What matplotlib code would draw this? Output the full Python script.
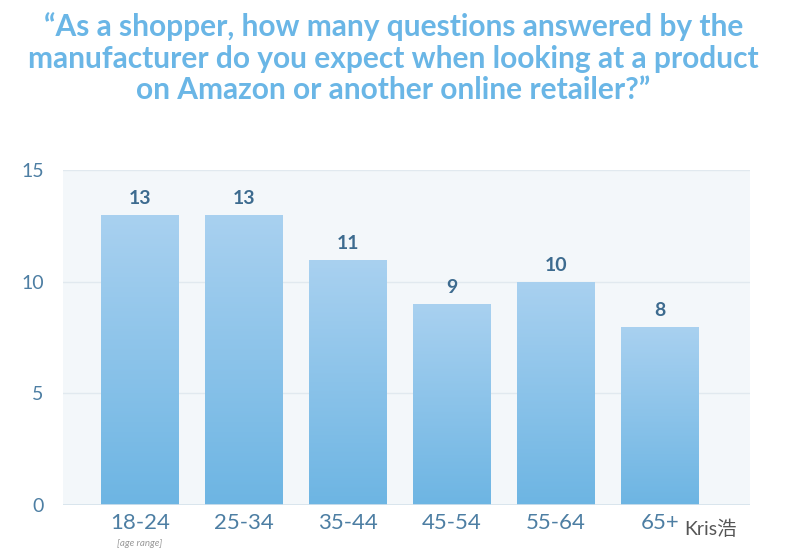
import matplotlib
matplotlib.use("Agg")
import matplotlib.pyplot as plt
import numpy as np
from matplotlib.colors import LinearSegmentedColormap

categories = ["18-24", "25-34", "35-44", "45-54", "55-64", "65+"]
values = [13, 13, 11, 9, 10, 8]
yticks = [0, 5, 10, 15]
title = "“As a shopper, how many questions answered by the\nmanufacturer do you expect when looking at a product\non Amazon or another online retailer?”"

plt.rcParams['font.family'] = ['Lato', 'Noto Sans CJK SC', 'DejaVu Sans']
fig = plt.figure(figsize=(8, 5.6), dpi=100)
ax = fig.add_axes([0.079, 0.098, 0.859, 0.598])
ax.set_facecolor("#f3f7fa")
ax.set_yticks(yticks)
ax.yaxis.grid(True, color="#e1e9ef", lw=1)
ax.set_axisbelow(True)
for s in ax.spines.values():
    s.set_visible(False)
ax.tick_params(length=0)
ax.tick_params(axis='y', labelsize=14, colors="#4d7ea3", pad=14)
ax.set_xticks(range(len(categories)))
ax.set_xticklabels(categories, fontsize=16, color="#4d7ea3")
ax.tick_params(axis='x', pad=6)

cmap = LinearSegmentedColormap.from_list("g", ["#6db5e3", "#a9d1f0"])
grad = np.linspace(0, 1, 256).reshape(-1, 1)
bars = ax.bar(range(len(categories)), values, width=0.75, color="none")
for b, v in zip(bars, values):
    x0 = b.get_x(); w = b.get_width()
    im = ax.imshow(grad, extent=[x0, x0 + w, 0, v], origin="lower", cmap=cmap, aspect="auto", zorder=2)
    im.set_clip_path(b)
    ax.text(b.get_x() + w / 2, v + 0.35, str(v), ha="center", va="bottom",
            fontsize=14, fontweight="bold", color="#3d6b8f")
ax.set_xlim(-0.74, 5.87)
ax.set_ylim(0, 15)
ax.axhline(0, color="#d5e2ec", lw=1.2)

fig.text(0.492, 0.978, title, ha="center", va="top", fontsize=21.5, fontweight="bold",
         color="#6ab6e6", linespacing=1.15)
fig.text(0.175, 0.025, "[age range]", ha="center", fontsize=7, style="italic", color="#999999")
fig.text(0.855, 0.045, "Kris浩", fontsize=14, color="#555555")
fig.savefig("out.png", dpi=100)
